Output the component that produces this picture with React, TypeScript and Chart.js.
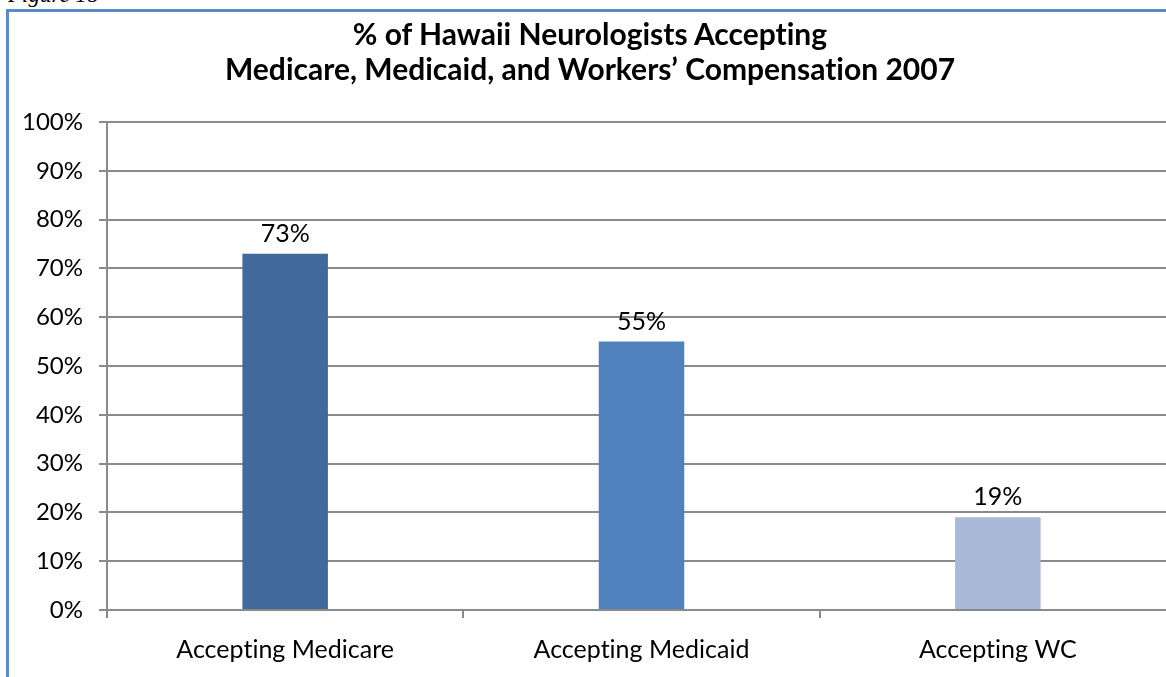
import React, { useEffect, useRef } from "react";
import { Chart, registerables } from "chart.js";

Chart.register(...registerables);

const categories = ["Accepting Medicare", "Accepting Medicaid", "Accepting WC"];
const values = [73, 55, 19];
const barColors = ["#41699A", "#4F81BD", "#A9B9D8"];
const yTicks = [0, 10, 20, 30, 40, 50, 60, 70, 80, 90, 100];
const titleLines = ["% of Hawaii Neurologists Accepting", "Medicare, Medicaid, and Workers\u2019 Compensation 2007"];
const figureCaption = "Figure 18";

const FONT = "Lato, 'Noto Sans', sans-serif";

const noLigaturePlugin = {
  id: "noLigatures",
  beforeDraw(chart: any) {
    try {
      (chart.ctx as any).letterSpacing = "0.01px";
    } catch (e) {}
  },
};

const valueLabelPlugin = {
  id: "valueLabels",
  afterDatasetsDraw(chart: any) {
    const ctx = chart.ctx;
    const meta = chart.getDatasetMeta(0);
    ctx.save();
    ctx.font = `25px ${FONT}`;
    ctx.fillStyle = "#000";
    ctx.textAlign = "center";
    ctx.textBaseline = "alphabetic";
    meta.data.forEach((bar: any, i: number) => {
      ctx.fillText(`${values[i]}%`, bar.x, bar.y - 12);
    });
    ctx.restore();
  },
};

export default function App() {
  const ref = useRef<HTMLCanvasElement | null>(null);

  useEffect(() => {
    if (!ref.current) return;
    const chart = new Chart(ref.current, {
      type: "bar",
      data: {
        labels: categories,
        datasets: [
          {
            data: values,
            backgroundColor: barColors,
            borderWidth: 0,
            barPercentage: 1,
            categoryPercentage: 0.24,
          },
        ],
      },
      options: {
        responsive: false,
        animation: false,
        layout: { padding: { top: 122, right: 24, bottom: 0, left: 0 } },
        plugins: {
          legend: { display: false },
          tooltip: { enabled: false },
          title: { display: false },
        },
        scales: {
          x: {
            grid: {
              offset: true,
              drawOnChartArea: false,
              drawTicks: true,
              tickLength: 8,
              color: "#8A8A8A",
              lineWidth: 2,
            },
            border: { color: "#8A8A8A", width: 2 },
            ticks: {
              color: "#000",
              font: { family: FONT, size: 25 },
              padding: 17,
              maxRotation: 0,
            },
            afterFit(scale: any) {
              scale.height = 67;
            },
          },
          y: {
            min: 0,
            max: 100,
            afterBuildTicks(scale: any) {
              scale.ticks = yTicks.map((v) => ({ value: v }));
            },
            grid: {
              color: "#8A8A8A",
              lineWidth: 2,
              tickLength: 8,
            },
            border: { color: "#8A8A8A", width: 2 },
            ticks: {
              color: "#000",
              font: { family: FONT, size: 24 },
              padding: 16,
              callback: (v: any) => `${v}%`,
            },
            afterFit(scale: any) {
              scale.width = 107;
            },
          },
        },
      },
      plugins: [noLigaturePlugin, valueLabelPlugin],
    });
    return () => chart.destroy();
  }, []);

  return (
    <div
      style={{
        position: "absolute",
        left: 0,
        top: 0,
        width: 1166,
        height: 677,
        overflow: "hidden",
        background: "#fff",
      }}
    >
      <div
        style={{
          position: "absolute",
          left: 8,
          top: -17,
          font: "italic 23px 'Liberation Serif', serif",
          lineHeight: "24px",
          color: "#000",
          whiteSpace: "nowrap",
        }}
      >
        {figureCaption}
      </div>
      <div
        style={{
          position: "absolute",
          left: 6,
          top: 9,
          width: 1400,
          height: 900,
          borderLeft: "3px solid #5B8AC8",
          borderTop: "3px solid #5B8AC8",
        }}
      />
      <canvas
        ref={ref}
        width={1200}
        height={677}
        style={{ position: "absolute", left: 0, top: 0, width: 1200, height: 677 }}
      />
      <div
        style={{
          position: "absolute",
          left: 90,
          width: 1000,
          top: 16,
          textAlign: "center",
          font: `bold 30px ${FONT}`,
          lineHeight: "35px",
          fontVariantLigatures: "none",
          color: "#000",
          whiteSpace: "nowrap",
        }}
      >
        <div>{titleLines[0]}</div>
        <div>{titleLines[1]}</div>
      </div>
    </div>
  );
}
